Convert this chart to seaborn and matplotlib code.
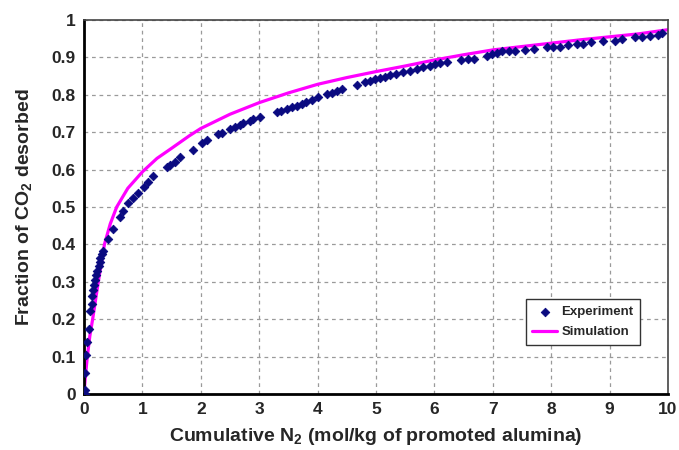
import seaborn as sns
import matplotlib.pyplot as plt
import pandas as pd

# Experiment points
exp_x = [0.01, 0.01, 0.02, 0.04, 0.06, 0.08, 0.11, 0.13, 0.14, 0.15, 0.17, 0.18,
         0.21, 0.23, 0.25, 0.27, 0.28, 0.31, 0.33, 0.41, 0.50, 0.62, 0.67, 0.76,
         0.84, 0.93, 1.02, 1.10, 1.19, 1.42, 1.47, 1.56, 1.64, 1.87, 2.02, 2.10,
         2.30, 2.36, 2.50, 2.59, 2.67, 2.73, 2.84, 2.90, 3.01, 3.30, 3.38, 3.47,
         3.56, 3.64, 3.73, 3.81, 3.90, 4.01, 4.16, 4.24, 4.33, 4.41, 4.67, 4.82,
         4.90, 4.98, 5.07, 5.15, 5.24, 5.35, 5.47, 5.58, 5.70, 5.81, 5.92, 6.01,
         6.10, 6.21, 6.46, 6.58, 6.67, 6.90, 6.98, 7.07, 7.15, 7.27, 7.38, 7.55,
         7.70, 7.92, 8.03, 8.15, 8.29, 8.44, 8.55, 8.69, 8.89, 9.09, 9.21, 9.43,
         9.55, 9.69, 9.83, 9.90]
exp_y = [0.0, 0.01, 0.057, 0.104, 0.14, 0.173, 0.222, 0.242, 0.262, 0.278, 0.291, 0.305,
         0.318, 0.33, 0.342, 0.354, 0.363, 0.374, 0.383, 0.414, 0.442, 0.474, 0.488, 0.51,
         0.523, 0.538, 0.554, 0.568, 0.583, 0.608, 0.613, 0.621, 0.635, 0.653, 0.670, 0.679,
         0.695, 0.699, 0.708, 0.715, 0.719, 0.724, 0.730, 0.734, 0.741, 0.753, 0.757, 0.761,
         0.767, 0.771, 0.775, 0.781, 0.786, 0.795, 0.801, 0.806, 0.811, 0.815, 0.826, 0.835,
         0.838, 0.842, 0.846, 0.848, 0.852, 0.856, 0.860, 0.864, 0.868, 0.873, 0.877, 0.881,
         0.884, 0.887, 0.892, 0.895, 0.897, 0.904, 0.909, 0.913, 0.917, 0.918, 0.918, 0.920,
         0.922, 0.929, 0.929, 0.929, 0.933, 0.936, 0.937, 0.940, 0.944, 0.945, 0.949, 0.954,
         0.955, 0.958, 0.960, 0.965]

# Simulation curve
sim_x = [0.0, 0.02, 0.057, 0.1, 0.148, 0.245, 0.35, 0.45, 0.56, 0.75, 1.0, 1.25, 1.5,
         1.8, 2.0, 2.5, 3.0, 3.5, 4.0, 4.5, 5.0, 5.5, 6.0, 6.5, 7.0, 7.5, 8.0, 8.5,
         9.0, 9.5, 10.0]
sim_y = [0.0, 0.04, 0.1, 0.155, 0.2, 0.3, 0.4, 0.455, 0.5, 0.55, 0.594, 0.63, 0.657,
         0.69, 0.71, 0.748, 0.779, 0.805, 0.828, 0.846, 0.862, 0.877, 0.893, 0.907,
         0.92, 0.929, 0.938, 0.947, 0.955, 0.963, 0.974]

x_ticks = list(range(0, 11))
y_ticks = [0, 0.1, 0.2, 0.3, 0.4, 0.5, 0.6, 0.7, 0.8, 0.9, 1]
y_labels = ["0", "0.1", "0.2", "0.3", "0.4", "0.5", "0.6", "0.7", "0.8", "0.9", "1"]

exp = pd.DataFrame({"x": exp_x, "y": exp_y})
sim = pd.DataFrame({"x": sim_x, "y": sim_y})

sns.set_style("white")
plt.rcParams["font.family"] = ["Liberation Sans", "DejaVu Sans"]
plt.rcParams["font.weight"] = "bold"
plt.rcParams["mathtext.fontset"] = "custom"
plt.rcParams["mathtext.bf"] = "Liberation Sans:bold"
plt.rcParams["mathtext.rm"] = "Liberation Sans:bold"

fig = plt.figure(figsize=(6.79, 4.5), dpi=100)
ax = fig.add_axes([0.1237, 0.1244, 0.8601, 0.8312])

sns.lineplot(data=sim, x="x", y="y", ax=ax, color="#FF00FF", linewidth=2.3,
             label="Simulation", zorder=2, sort=False)
sns.scatterplot(data=exp, x="x", y="y", ax=ax, marker="D", s=19, color="#0A0A80",
                edgecolor="#0A0A80", linewidth=0.6, label="Experiment", zorder=3)

ax.set_xlim(0, 10)
ax.set_ylim(0, 1)
ax.set_xticks(x_ticks)
ax.set_yticks(y_ticks)
ax.set_yticklabels(y_labels)
ax.tick_params(direction="out", length=4, width=1, color="#333333",
               labelsize=12.5, pad=2)
for lab in ax.get_xticklabels() + ax.get_yticklabels():
    lab.set_fontweight("bold")

ax.grid(True, color="#9a9a9a", linestyle=(0, (3, 3)), linewidth=0.9)
ax.set_axisbelow(True)

for side in ["left", "bottom"]:
    ax.spines[side].set_color("black")
    ax.spines[side].set_linewidth(2)
for side in ["top", "right"]:
    ax.spines[side].set_color("#444444")
    ax.spines[side].set_linewidth(1.2)

ax.set_xlabel(r"Cumulative N$_\mathbf{2}$ (mol/kg of promoted alumina)",
              fontsize=14, fontweight="bold", labelpad=6)
ax.set_ylabel(r"Fraction of CO$_\mathbf{2}$ desorbed",
              fontsize=14, fontweight="bold", labelpad=12)

handles, labels = ax.get_legend_handles_labels()
order = [labels.index("Experiment"), labels.index("Simulation")]
leg = ax.legend([handles[i] for i in order], [labels[i] for i in order],
                loc="lower right", bbox_to_anchor=(0.952, 0.131), frameon=True,
                fancybox=False, edgecolor="#333333", framealpha=1,
                prop={"weight": "bold", "size": 9.5}, handlelength=1.9,
                handletextpad=0.3, borderpad=0.5, labelspacing=0.6,
                borderaxespad=0)
leg.get_frame().set_linewidth(1)

fig.savefig("out.png", dpi=100)
